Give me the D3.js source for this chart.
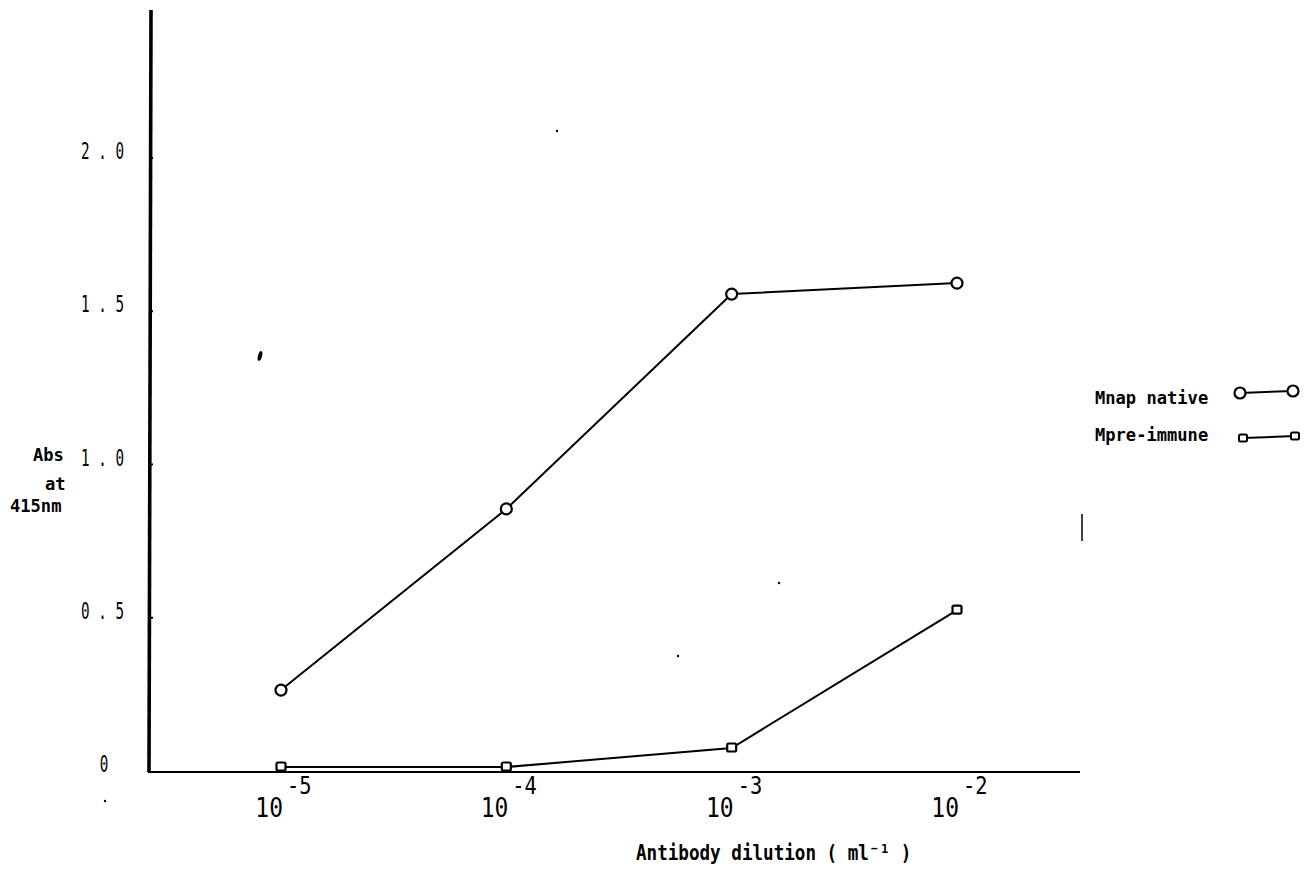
<!DOCTYPE html>
<html>
<head>
<meta charset="utf-8">
<script src="https://cdn.jsdelivr.net/npm/d3@7"></script>
<style>
  html, body { margin: 0; padding: 0; background: #fff; }
  svg { display: block; }
</style>
</head>
<body>
<svg id="chart" width="1306" height="874"></svg>
<script>
// Antibody dilution series (ml^-1) and absorbance at 415 nm
const dilutions = [1e-5, 1e-4, 1e-3, 1e-2];
const nativeAbs = [0.264, 0.855, 1.556, 1.592];
const preImmuneAbs = [0.013, 0.013, 0.075, 0.525];
const yTicks = [0, 0.5, 1.0, 1.5, 2.0];
const yTickLabels = ["0", "0 . 5", "1 . 0", "1 . 5", "2 . 0"];
const xTickExponents = ["-5", "-4", "-3", "-2"];
const seriesNames = ["Mnap native", "Mpre-immune"];

const svg = d3.select("#chart");

const x = d3.scaleLog().domain([1e-5, 1e-2]).range([281, 957]);
const y = d3.scaleLinear().domain([0, 2]).range([771, 158]);

const monoFont = "'DejaVu Sans Mono', monospace";

// Text drawn with a horizontal squeeze
function squeezed(g, tx, ty, s, size, sx, anchor, weight) {
  return g.append("text")
    .attr("transform", `translate(${tx},${ty}) scale(${sx},1)`)
    .attr("text-anchor", anchor)
    .attr("font-family", monoFont)
    .attr("font-weight", weight || "normal")
    .attr("font-size", size)
    .attr("fill", "#000")
    .text(s);
}

// Axes
svg.append("line")
  .attr("x1", 151).attr("x2", 149)
  .attr("y1", y(2.483)).attr("y2", y(0) + 1)
  .attr("stroke", "#000").attr("stroke-width", 3.6);
svg.append("line")
  .attr("x1", 148).attr("x2", 1080)
  .attr("y1", y(0) + 1).attr("y2", y(0) + 1)
  .attr("stroke", "#000").attr("stroke-width", 2.2);
// small tick nubs on the value axis
svg.append("g").selectAll("line").data(yTicks.slice(1)).join("line")
  .attr("x1", 150).attr("x2", 153)
  .attr("y1", d => y(d)).attr("y2", d => y(d))
  .attr("stroke", "#000").attr("stroke-width", 2);

// Y tick labels (a lone "0" sits centred in the label column)
const yLab = svg.append("g");
yTicks.forEach((t, i) => {
  const s = yTickLabels[i];
  if (s.length === 1) squeezed(yLab, 104, y(t) + 1, s, 23, 0.62, "middle");
  else squeezed(yLab, 124, y(t) + 1, s, 23, 0.62, "end");
});

// X tick labels (powers of ten)
const xLab = svg.append("g");
dilutions.forEach((d, i) => {
  const cx = x(d);
  squeezed(xLab, cx + 2, 817, "10", 27, 0.85, "end");
  squeezed(xLab, cx + 6, 794, xTickExponents[i], 24, 0.85, "start");
});

// Bold labels
const boldText = (tx, ty, s, size, sx, anchor) =>
  squeezed(svg, tx, ty, s, size, sx, anchor || "start", "bold");

boldText(33, 461, "Abs", 18, 0.95);
boldText(45, 490, "at", 18, 0.95);
boldText(10, 512, "415nm", 18, 0.95);
boldText(636, 860, "Antibody dilution ( ml\u207B\u00B9 )", 22, 0.8);

// Series lines
const line = d3.line().x(d => x(d[0])).y(d => y(d[1]));
const nativePts = dilutions.map((d, i) => [d, nativeAbs[i]]);
const prePts = dilutions.map((d, i) => [d, preImmuneAbs[i]]);

svg.append("path").datum(nativePts).attr("d", line)
  .attr("fill", "none").attr("stroke", "#000").attr("stroke-width", 2);
svg.append("path").datum(prePts).attr("d", line)
  .attr("fill", "none").attr("stroke", "#000").attr("stroke-width", 2);

// Markers
svg.append("g").selectAll("circle").data(nativePts).join("circle")
  .attr("cx", d => x(d[0])).attr("cy", d => y(d[1])).attr("r", 5.5)
  .attr("fill", "#fff").attr("stroke", "#000").attr("stroke-width", 2.2);
svg.append("g").selectAll("rect").data(prePts).join("rect")
  .attr("x", d => x(d[0]) - 4.5).attr("y", d => y(d[1]) - 4.5)
  .attr("width", 9).attr("height", 8).attr("rx", 1.5)
  .attr("fill", "#fff").attr("stroke", "#000").attr("stroke-width", 2.2);

// Legend
const leg = svg.append("g");
boldText(1095, 404, seriesNames[0], 18, 0.95);
boldText(1095, 441, seriesNames[1], 18, 0.95);
leg.append("line").attr("x1", 1240).attr("x2", 1293).attr("y1", 393).attr("y2", 391)
  .attr("stroke", "#000").attr("stroke-width", 2);
[[1240, 393], [1293, 391]].forEach(p => leg.append("circle")
  .attr("cx", p[0]).attr("cy", p[1]).attr("r", 5.5)
  .attr("fill", "#fff").attr("stroke", "#000").attr("stroke-width", 2.2));
leg.append("line").attr("x1", 1243).attr("x2", 1295).attr("y1", 438).attr("y2", 436)
  .attr("stroke", "#000").attr("stroke-width", 2);
[[1243, 438], [1295, 436]].forEach(p => leg.append("rect")
  .attr("x", p[0] - 4).attr("y", p[1] - 3.5).attr("width", 8).attr("height", 7).attr("rx", 1.5)
  .attr("fill", "#fff").attr("stroke", "#000").attr("stroke-width", 2));

// Stray specks on the sheet
svg.append("ellipse").attr("cx", 260).attr("cy", 356).attr("rx", 2).attr("ry", 5)
  .attr("transform", "rotate(15 260 356)").attr("fill", "#000");
svg.append("line").attr("x1", 1082).attr("x2", 1082).attr("y1", 514).attr("y2", 541)
  .attr("stroke", "#000").attr("stroke-width", 1.5);
[[557, 131], [779, 583], [678, 656], [105, 801]].forEach(p => svg.append("circle")
  .attr("cx", p[0]).attr("cy", p[1]).attr("r", 1.2).attr("fill", "#000"));
</script>
</body>
</html>
